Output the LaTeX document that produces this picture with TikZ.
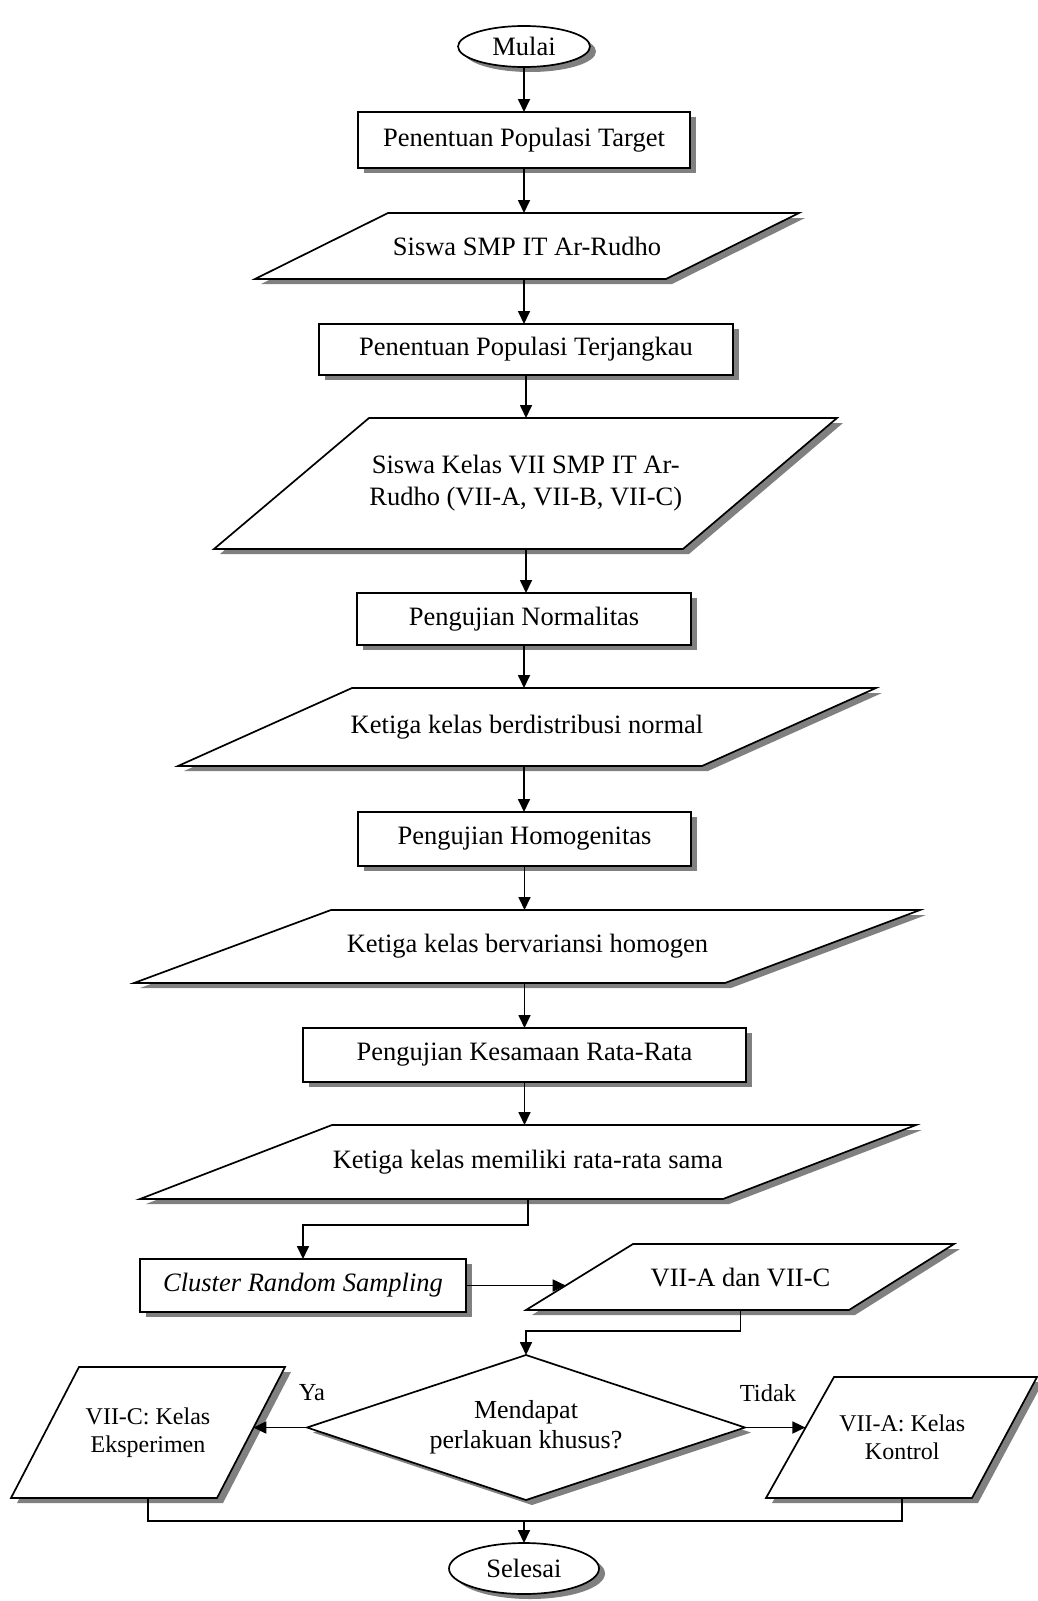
\documentclass[tikz,border=0pt]{standalone}
\usepackage{fontspec}
\setmainfont{Liberation Serif}
\usetikzlibrary{arrows.meta,shapes.geometric,shadows,calc}
\definecolor{shadowgray}{gray}{0.5}
\newcommand{\flowpara}[9]{%
  \pgfmathsetmacro{\pcx}{(#2+#3+#4+#5)/4}%
  \pgfmathsetmacro{\pcy}{(#6+#7)/2}%
  \pgfmathsetmacro{\ph}{#7-#6}%
  \fill[shadowgray,shift={(6,5)}] (#2,#6) -- (#3,#6) -- (#5,#7) -- (#4,#7) -- cycle;
  \filldraw[fill=white] (#2,#6) -- (#3,#6) -- (#5,#7) -- (#4,#7) -- cycle;
  \node[inner sep=0pt,outer sep=0pt,minimum height=\ph pt,align=center,#8] (#1) at (\pcx,\pcy) {#9};
}
\begin{document}
\begin{tikzpicture}[x=1pt,y=-1pt,line width=1.7pt,
  font=\fontsize{26.5}{31}\selectfont,
  shd/.style={drop shadow={shadow xshift=6pt,shadow yshift=-5pt,fill=shadowgray,opacity=1}},
  procbox/.style={rectangle,draw,fill=white,shd,inner sep=0pt,outer sep=0pt},
  term/.style={ellipse,draw,fill=white,shd,inner sep=0pt,outer sep=0pt},
  lbl/.style={inner sep=0pt,font=\fontsize{24.5}{28}\selectfont},
  arr/.style={-{Triangle[length=13pt,width=12pt]}},
  smallpara/.style={font=\fontsize{24}{28}\selectfont}]
\useasboundingbox (0,0) rectangle (1038,1601);

\node[term,minimum width=132pt,minimum height=41pt] (m) at (524,46.5) {Mulai};
\node[procbox,minimum width=332pt,minimum height=56pt] (b1) at (524,140) {Penentuan Populasi Target};
\flowpara{p1}{388}{799}{255}{666}{213}{279}{}{Siswa SMP IT Ar-Rudho}
\node[procbox,minimum width=414pt,minimum height=51pt] (b2) at (526,349.5) {Penentuan Populasi Terjangkau};
\flowpara{p2}{369}{837}{214}{683}{418}{549}{font=\fontsize{26.5}{32}\selectfont}{Siswa Kelas VII SMP IT Ar-\\Rudho (VII-A, VII-B, VII-C)}
\node[procbox,minimum width=334pt,minimum height=52pt] (b3) at (524,619) {Pengujian Normalitas};
\flowpara{p3}{352}{876}{178}{702}{688}{766}{}{Ketiga kelas berdistribusi normal}
\node[procbox,minimum width=333pt,minimum height=54pt] (b4) at (524.5,839) {Pengujian Homogenitas};
\flowpara{p4}{331}{920}{134}{725}{910}{983}{}{Ketiga kelas bervariansi homogen}
\node[procbox,minimum width=443pt,minimum height=54pt] (b5) at (524.5,1055) {Pengujian Kesamaan Rata-Rata};
\flowpara{p5}{332}{916}{140}{723}{1125}{1199}{}{Ketiga kelas memiliki rata-rata sama}
\node[procbox,minimum width=326pt,minimum height=53pt] (b6) at (303,1285.5) {\textit{Cluster Random Sampling}};
\flowpara{p6}{633}{954}{526}{849}{1244}{1310}{}{VII-A dan VII-C}

% decision diamond
\fill[shadowgray,shift={(6,5)}] (526,1355) -- (745,1427.5) -- (526,1500) -- (307,1427.5) -- cycle;
\filldraw[fill=white] (526,1355) -- (745,1427.5) -- (526,1500) -- (307,1427.5) -- cycle;
\node[inner sep=0pt,outer sep=0pt,minimum width=438pt,minimum height=145pt,align=center,
  font=\fontsize{26}{30}\selectfont] (d) at (526,1427.5) {Mendapat\\perlakuan khusus?};

\flowpara{pl}{79}{285}{11}{217}{1367}{1498}{smallpara}{VII-C: Kelas\\Eksperimen}
\flowpara{pr}{834}{1037}{766}{972}{1377}{1498}{smallpara}{VII-A: Kelas\\Kontrol}
\node[term,minimum width=150pt,minimum height=51pt] (sel) at (524,1568.5) {Selesai};

\node[lbl] (ya) at (312,1393) {Ya};
\node[lbl] (tidak) at (768,1393) {Tidak};

\coordinate (p6w) at (565.7,1285.5);
\coordinate (plE) at (253.3,1427.5);
\coordinate (prW) at (805.4,1427.5);

\draw[arr] (m.south) -- (m.south |- b1.north);
\draw[arr] (b1.south) -- (b1.south |- p1.north);
\draw[arr] (b1.south |- p1.south) -- (b1.south |- b2.north);
\draw[arr] (b2.south) -- (b2.south |- p2.north);
\draw[arr] (b2.south |- p2.south) -- (b2.south |- b3.north);
\draw[arr] (b3.south) -- (b3.south |- p3.north);
\draw[arr] (b3.south |- p3.south) -- (b3.south |- b4.north);
\draw[arr] (b4.south) -- (b4.south |- p4.north);
\draw[arr] (b4.south |- p4.south) -- (b4.south |- b5.north);
\draw[arr] (b5.south) -- (b5.south |- p5.north);
\draw[arr] (p5.south) -- ++(0,26) -| (b6.north);
\draw[arr] (b6.east) -- (p6w);
\draw[arr] (p6.south) -- ++(0,21) -| (d.north);
\draw[arr] (d.west) -- (plE);
\draw[arr] (d.east) -- (prW);
\draw (pl.south) -- ++(0,23) coordinate (j) -| (pr.south);
\draw[arr] (j -| sel.north) -- (sel.north);
\end{tikzpicture}
\end{document}
